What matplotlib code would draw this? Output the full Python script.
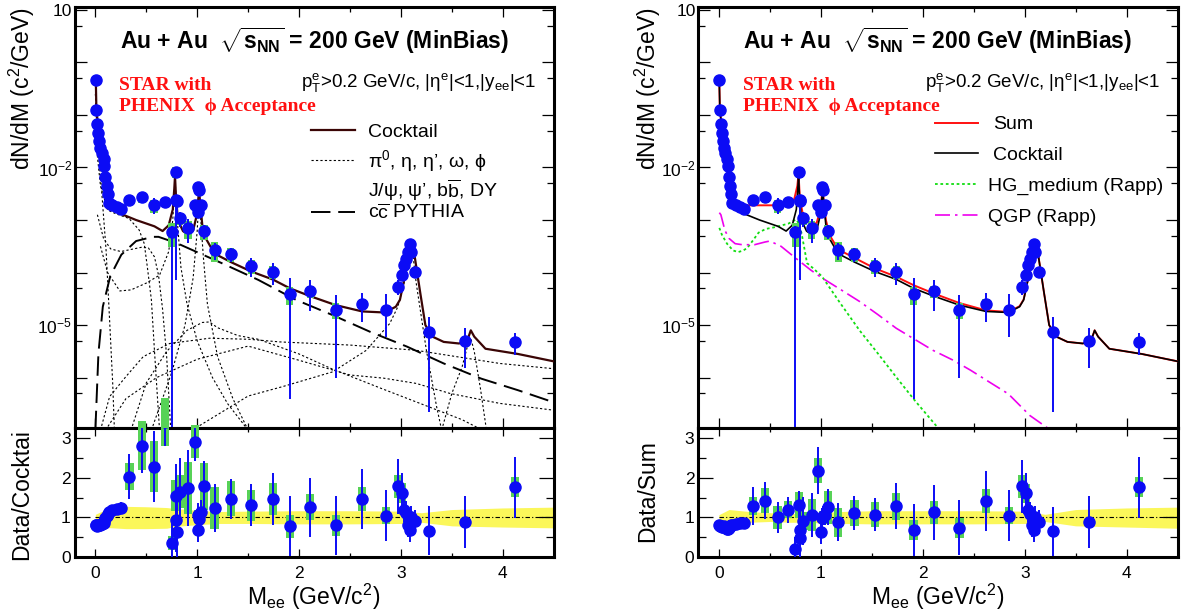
import numpy as np
import matplotlib
matplotlib.use('Agg')
import matplotlib.pyplot as plt
from matplotlib.ticker import FixedLocator, FuncFormatter, NullFormatter

plt.rcParams['font.family'] = ['Liberation Sans', 'DejaVu Sans']
plt.rcParams['mathtext.fontset'] = 'custom'
plt.rcParams['mathtext.rm'] = 'Liberation Sans'
plt.rcParams['mathtext.it'] = 'Liberation Sans:italic'
plt.rcParams['mathtext.bf'] = 'Liberation Sans:bold'

# ---- data points (mass, log10 dN/dM) ----
mee = [0.005, 0.01, 0.02, 0.03, 0.04, 0.05, 0.065, 0.08, 0.085, 0.095, 0.11, 0.12, 0.13, 0.165, 0.21, 0.25,
       0.335, 0.455, 0.576, 0.68, 0.75, 0.787, 0.795, 0.80, 0.83, 0.91,
       0.976, 1.005, 1.009, 1.02, 1.04, 1.067,
       1.17, 1.33, 1.53, 1.74, 1.91, 2.11, 2.36, 2.62, 2.85,
       2.97, 3.01, 3.035, 3.05, 3.07, 3.09, 3.10, 3.14,
       3.28, 3.63, 4.12]
dndm_log = [-0.34, -0.90, -1.17, -1.34, -1.49, -1.62, -1.73, -1.84, -1.97, -2.19, -2.35, -2.50, -2.67, -2.72, -2.75, -2.79,
            -2.61, -2.57, -2.72, -2.66, -3.23, -2.08, -2.61, -2.64, -2.97, -3.15,
            -2.72, -2.85, -2.37, -2.42, -2.72, -3.21,
            -3.57, -3.64, -3.87, -3.98, -4.41, -4.35, -4.71, -4.59, -4.71,
            -4.27, -4.04, -3.85, -3.74, -3.61, -3.46, -3.61, -3.99,
            -5.13, -5.30, -5.32]
err_up = [0.03] * 16 + [0.15, 0.2, 0.35, 0.2, 0.3, 0.1, 0.15, 0.3, 0.3, 0.45,
                        0.15, 0.2, 0.1, 0.1, 0.2, 0.3,
                        0.35, 0.3, 0.41, 0.45, 1.0, 0.62, 0.9, 0.58, 1.0,
                        0.35, 0.15, 0.15, 0.15, 0.15, 0.15, 0.15, 0.15,
                        0.95, 0.74, 0.45]
err_dn = [0.03] * 16 + [0.15, 0.2, 0.32, 0.2, 1.0, 0.1, 0.97, 0.6, 0.3, 0.49,
                        0.15, 0.2, 0.1, 0.1, 0.2, 0.3,
                        0.36, 0.3, 0.38, 0.44, 0.99, 0.59, 0.95, 0.55, 0.7,
                        0.3, 0.15, 0.15, 0.15, 0.15, 0.15, 0.15, 0.15,
                        0.97, 0.7, 0.44]
sys_rel = [0.02] * 9 + [0.05] * 4 + [0.08, 0.08, 0.08] + [0.17, 0.22, 0.28, 0.18, 0.47, 0.25, 0.1, 0.1, 0.25, 0.38,
                                                          0.14, 0.1, 0.1, 0.1, 0.1, 0.33,
                                                          0.42, 0.3, 0.3, 0.27, 0.37, 0.26, 0.34, 0.21, 0.2,
                                                          0.16, 0.15, 0.1, 0.1, 0.1, 0.1, 0.1, 0.1,
                                                          0.05, 0.05, 0.14]

# ratios
ratio_cock = [0.80, 0.80, 0.79, 0.80, 0.82, 0.82, 0.84, 0.86, 0.90, 0.98, 1.05, 1.10, 1.15, 1.20, 1.22, 1.23,
              2.03, 2.80, 2.28, 3.40, 0.36, 1.55, 0.93, 0.63, 1.65, 1.74,
              2.91, 0.69, 1.07, 0.95, 1.13, 1.78,
              1.24, 1.47, 1.31, 1.47, 0.78, 1.26, 0.80, 1.47, 1.05,
              1.78, 1.62, 1.18, 1.11, 0.80, 0.69, 1.00, 0.90,
              0.67, 0.89, 1.76]
ratio_cock_err = [0.03] * 13 + [0.1, 0.12, 0.15] + [0.56, 0.67, 0.9, 0.6, 0.5, 0.8, 0.8, 0.8, 0.85, 0.95,
                                                   0.5, 0.3, 0.3, 0.3, 0.3, 0.65,
                                                   0.6, 0.5, 0.52, 0.66, 0.75, 0.74, 0.75, 0.76, 0.65,
                                                   0.7, 0.5, 0.3, 0.3, 0.3, 0.3, 0.3, 0.3,
                                                   0.62, 0.65, 0.77]
ratio_sum = [0.80, 0.79, 0.78, 0.76, 0.77, 0.78, 0.75, 0.72, 0.70, 0.74, 0.78, 0.80, 0.82, 0.84, 0.85, 0.86,
             1.29, 1.42, 1.00, 1.19, 0.21, 1.32, 0.69, 0.49, 0.92, 1.07,
             2.18, 0.63, 0.98, 1.05, 1.07, 1.26,
             0.88, 1.11, 1.07, 1.28, 0.68, 1.13, 0.74, 1.41, 1.05,
             1.78, 1.61, 1.18, 1.10, 0.80, 0.69, 1.00, 0.89,
             0.65, 0.88, 1.76]
ratio_sum_err = [0.03] * 13 + [0.08, 0.08, 0.08] + [0.48, 0.46, 0.4, 0.33, 0.3, 0.35, 0.6, 0.5, 0.6, 0.55,
                                                   0.58, 0.3, 0.25, 0.25, 0.25, 0.46,
                                                   0.48, 0.42, 0.42, 0.58, 0.66, 0.69, 0.69, 0.75, 0.65,
                                                   0.67, 0.5, 0.3, 0.3, 0.3, 0.3, 0.3, 0.3,
                                                   0.61, 0.65, 0.77]

# cocktail uncertainty bands
band_x = [0.0, 0.1, 0.3, 0.5, 0.7, 0.8, 0.9, 1.0, 1.2, 1.5, 2.0, 2.5, 3.0, 3.1, 3.2, 3.5, 4.0, 4.5]
band_cock_hi = [1.08, 1.2, 1.28, 1.27, 1.25, 1.22, 1.2, 1.18, 1.15, 1.16, 1.17, 1.17, 1.16, 1.14, 1.12, 1.2, 1.24, 1.26]
band_cock_lo = [0.72, 0.75, 0.72, 0.72, 0.73, 0.78, 0.80, 0.82, 0.85, 0.85, 0.84, 0.84, 0.85, 0.87, 0.88, 0.79, 0.76, 0.74]
band_sum_hi = [1.07, 1.2, 1.15, 1.12, 1.1, 1.1, 1.1, 1.12, 1.15, 1.17, 1.17, 1.17, 1.16, 1.12, 1.08, 1.2, 1.24, 1.26]
band_sum_lo = [0.8, 0.82, 0.88, 0.9, 0.88, 0.88, 0.88, 0.86, 0.85, 0.84, 0.84, 0.84, 0.85, 0.88, 0.9, 0.79, 0.76, 0.73]

# ---- curves (mass, log10 dN/dM) ----
cock_x = [0.0, 0.005, 0.01, 0.025, 0.05, 0.08, 0.1, 0.13, 0.15, 0.2, 0.26, 0.4, 0.58, 0.66, 0.72, 0.76, 0.775,
          0.782, 0.79, 0.81, 0.86, 0.91, 0.96, 0.99, 1.01, 1.019, 1.03, 1.05, 1.09, 1.17, 1.33, 1.53, 1.74,
          1.91, 2.11, 2.36, 2.62, 2.84, 2.95, 2.99, 3.06, 3.096, 3.13, 3.19, 3.24, 3.31, 3.42, 3.57, 3.65,
          3.686, 3.72, 3.83, 4.15, 4.5]
cock_y = [-0.3, -0.4, -0.9, -1.17, -1.62, -1.9, -2.2, -2.55, -2.7, -2.82, -2.89, -3.0, -3.12, -3.21, -3.1,
          -2.8, -2.4, -2.16, -2.5, -3.0, -3.21, -3.28, -3.2, -2.95, -2.6, -2.45, -2.7, -3.1, -3.37, -3.64,
          -3.8, -3.98, -4.13, -4.3, -4.45, -4.62, -4.74, -4.76, -4.65, -4.52, -3.88, -3.44, -3.63, -4.39,
          -5.0, -5.22, -5.32, -5.35, -5.3, -5.1, -5.22, -5.45, -5.55, -5.69]
sum_x = [0.0, 0.005, 0.01, 0.025, 0.05, 0.08, 0.1, 0.13, 0.15, 0.2, 0.28, 0.4, 0.55, 0.68, 0.74, 0.77, 0.782,
         0.795, 0.82, 0.86, 0.91, 0.96, 0.99, 1.01, 1.019, 1.03, 1.05, 1.09, 1.17, 1.33, 1.53, 1.74, 1.91,
         2.11, 2.36, 2.62, 2.84, 2.95, 2.99, 3.06, 3.096, 3.13, 3.19, 3.24, 3.31, 3.42, 3.57, 3.65, 3.686,
         3.72, 3.83, 4.15, 4.5]
sum_y = [-0.3, -0.4, -0.9, -1.15, -1.58, -1.85, -2.15, -2.5, -2.65, -2.76, -2.72, -2.72, -2.72, -2.72,
         -2.6, -2.35, -2.12, -2.6, -2.85, -3.0, -3.12, -3.05, -2.85, -2.55, -2.4, -2.65, -3.0, -3.3, -3.56,
         -3.72, -3.92, -4.08, -4.24, -4.4, -4.58, -4.72, -4.75, -4.64, -4.51, -3.88, -3.44, -3.63, -4.39,
         -5.0, -5.22, -5.32, -5.35, -5.3, -5.1, -5.22, -5.45, -5.55, -5.69]
ccbar_x = [0.0, 0.03, 0.073, 0.146, 0.255, 0.4, 0.565, 0.62, 0.8, 1.24, 1.6, 1.97, 2.33, 2.7, 3.06, 3.42,
           3.79, 4.15, 4.5]
ccbar_y = [-7.0, -5.54, -4.65, -4.07, -3.66, -3.40, -3.32, -3.32, -3.44, -3.82, -4.14, -4.52, -4.81,
           -5.13, -5.41, -5.73, -6.02, -6.24, -6.47]
pi0_x = [0.0, 0.02, 0.056, 0.105, 0.138, 0.17, 0.187]
pi0_y = [-0.6, -1.5, -2.3, -3.57, -4.84, -6.1, -7.0]
eta_x = [0.01, 0.05, 0.12, 0.2, 0.33, 0.43, 0.48, 0.51, 0.55, 0.58, 0.63]
eta_y = [-1.6, -2.35, -2.81, -2.88, -2.97, -3.19, -3.45, -3.89, -4.52, -5.48, -7.0]
omd_x = [0.02, 0.08, 0.15, 0.25, 0.35, 0.45, 0.52, 0.58, 0.62, 0.66, 0.70, 0.74]
omd_y = [-2.9, -3.35, -3.55, -3.6, -3.56, -3.52, -3.53, -3.7, -4.05, -4.7, -5.6, -7.0]
omg_x = [0.05, 0.12, 0.24, 0.35, 0.5, 0.63, 0.72, 0.76, 0.782, 0.80, 0.84, 0.9, 1.0, 1.15, 1.3, 1.5]
omg_y = [-3.5, -4.0, -4.35, -4.33, -4.2, -4.05, -3.6, -3.0, -2.2, -2.9, -3.9, -4.6, -5.3, -6.0, -6.5, -7.0]
phi_x = [0.55, 0.75, 0.88, 0.96, 1.0, 1.019, 1.035, 1.06, 1.1, 1.2, 1.35, 1.5]
phi_y = [-7.0, -5.9, -5.0, -4.1, -3.2, -2.5, -3.0, -3.7, -4.6, -5.6, -6.4, -7.0]
etap_x = [0.35, 0.5, 0.7, 0.9, 1.05, 1.12, 1.2, 1.4, 1.6, 2.0, 2.33, 2.8, 3.2, 3.6, 3.8]
etap_y = [-7.0, -6.1, -5.5, -5.1, -4.95, -4.94, -5.05, -5.2, -5.27, -5.55, -5.84, -6.2, -6.5, -6.8, -7.0]
bb_x = [0.05, 0.14, 0.3, 0.47, 0.73, 1.12, 1.51, 1.81, 2.5, 3.15, 3.97, 4.5]
bb_y = [-7.0, -6.36, -5.98, -5.6, -5.35, -5.25, -5.27, -5.32, -5.38, -5.48, -5.73, -5.83]
dy_x = [0.1, 0.3, 0.6, 1.0, 1.5, 2.0, 2.5, 2.83, 3.15, 3.48, 3.97, 4.5]
dy_y = [-7.0, -6.4, -6.0, -5.65, -5.4, -5.67, -5.95, -6.01, -6.11, -6.30, -6.49, -6.62]
jpsi_x = [0.95, 1.5, 1.84, 2.33, 2.66, 2.89, 2.97, 3.03, 3.07, 3.096, 3.12, 3.15, 3.25, 3.35, 3.40]
jpsi_y = [-7.0, -6.35, -6.17, -5.89, -5.48, -4.97, -4.65, -4.2, -3.8, -3.46, -3.7, -4.2, -5.48, -6.55, -7.0]
psip_x = [3.40, 3.5, 3.6, 3.66, 3.686, 3.72, 3.78, 3.84]
psip_y = [-7.0, -6.3, -5.8, -5.35, -5.25, -5.5, -6.2, -7.0]
hg_x = [0.005, 0.03, 0.08, 0.14, 0.19, 0.24, 0.28, 0.33, 0.39, 0.46, 0.54, 0.62, 0.68, 0.73, 0.755, 0.78,
        0.81, 0.84, 0.865, 0.92, 1.01, 1.19, 1.38, 1.56, 1.74, 1.92, 2.16]
hg_y = [-3.15, -3.28, -3.45, -3.58, -3.61, -3.58, -3.53, -3.4, -3.24, -3.17, -3.14, -3.1, -3.07, -3.02,
        -2.99, -3.05, -3.24, -3.55, -3.82, -3.91, -4.07, -4.58, -5.1, -5.54, -5.99, -6.43, -6.98]
qgp_x = [0.005, 0.02, 0.04, 0.06, 0.1, 0.16, 0.23, 0.35, 0.45, 0.5, 0.61, 0.75, 0.9, 1.01, 1.2, 1.38, 1.56,
         1.74, 1.92, 2.1, 2.3, 2.47, 2.65, 2.84, 3.05, 3.24]
qgp_y = [-2.86, -2.9, -3.05, -3.2, -3.35, -3.45, -3.47, -3.47, -3.42, -3.40, -3.5, -3.72, -3.95, -4.1,
         -4.33, -4.55, -4.8, -5.06, -5.27, -5.48, -5.67, -5.86, -6.08, -6.31, -6.72, -6.98]

BLUE = '#0b0bf5'
GREEN = '#57d257'
YELLOW = '#fbf75a'
LABEL_FS = 16.5
TICK_FS = 12.5
SERIF = ['Liberation Serif', 'DejaVu Serif']


def lg(v):
    return 10.0 ** np.asarray(v)


def decade_label(v, pos):
    labels = {1: '10', -2: '$10^{-2}$', -5: '$10^{-5}$'}
    return labels.get(int(round(np.log10(v))), '')


def style_top(ax):
    ax.set_xlim(-0.2, 4.5)
    ax.set_yscale('log')
    ax.set_ylim(1.1e-7, 11.5)
    ax.yaxis.set_major_locator(FixedLocator([10.0 ** k for k in range(-6, 2)]))
    ax.yaxis.set_major_formatter(FuncFormatter(decade_label))
    ax.yaxis.set_minor_locator(FixedLocator([5 * 10.0 ** k for k in range(-7, 1)]))
    ax.yaxis.set_minor_formatter(NullFormatter())
    ax.xaxis.set_major_locator(FixedLocator([0, 1, 2, 3, 4]))
    ax.xaxis.set_minor_locator(FixedLocator([0.5, 1.5, 2.5, 3.5]))
    ax.tick_params(which='both', direction='in', top=True, right=True, labelbottom=False,
                   labelsize=TICK_FS, width=0.9)
    ax.tick_params(axis='y', which='major', length=8.5, pad=2)
    ax.tick_params(axis='y', which='minor', length=5)
    ax.tick_params(axis='x', which='major', length=7)
    ax.tick_params(axis='x', which='minor', length=3.5)
    for s in ax.spines.values():
        s.set_linewidth(2.2)


def style_ratio(ax):
    ax.set_xlim(-0.2, 4.5)
    ax.set_ylim(0, 3.25)
    ax.yaxis.set_major_locator(FixedLocator([0, 1, 2, 3]))
    ax.yaxis.set_minor_locator(FixedLocator([0.5, 1.5, 2.5]))
    ax.xaxis.set_major_locator(FixedLocator([0, 1, 2, 3, 4]))
    ax.xaxis.set_minor_locator(FixedLocator([0.5, 1.5, 2.5, 3.5]))
    ax.tick_params(which='both', direction='in', top=True, right=True, labelsize=TICK_FS, width=0.9)
    ax.tick_params(axis='y', which='major', length=10.5, pad=3)
    ax.tick_params(axis='y', which='minor', length=5.5)
    ax.tick_params(axis='x', which='major', length=5.8, pad=6)
    ax.tick_params(axis='x', which='minor', length=3)
    for s in ax.spines.values():
        s.set_linewidth(2.2)


def draw_points(ax):
    x = np.asarray(mee)
    y = lg(dndm_log)
    sys_h = y * np.asarray(sys_rel)
    ax.bar(x, 2 * sys_h, bottom=y - sys_h, width=0.07, color=GREEN, zorder=4)
    lo = np.maximum(y * (1 - np.asarray(err_dn)), 1e-9)
    hi = y * (1 + np.asarray(err_up))
    ax.vlines(x, lo, hi, color=BLUE, lw=1.4, zorder=5)
    ax.plot(x, y, 'o', color=BLUE, ms=8, zorder=6)


def draw_ratio(ax, r, r_err, b_hi, b_lo):
    x = np.asarray(mee)
    r = np.asarray(r)
    ax.fill_between(band_x, b_lo, b_hi, color=YELLOW, lw=0, zorder=1)
    ax.plot([0, 4.5], [1, 1], color='black', lw=0.8, ls=(0, (4, 2, 1, 2)), zorder=2)
    h = r * np.asarray(sys_rel)
    ax.bar(x, 2 * h, bottom=r - h, width=0.08, color=GREEN, zorder=4, clip_on=False)
    ax.vlines(x, r - np.asarray(r_err), r + np.asarray(r_err), color=BLUE, lw=1.4, zorder=5)
    ax.plot(x, r, 'o', color=BLUE, ms=8, zorder=6)


fig = plt.figure(figsize=(11.82, 6.13), dpi=100)
axL = fig.add_axes([0.06345, 0.3018, 0.405, 0.6873])
axLr = fig.add_axes([0.06345, 0.0909, 0.405, 0.2109])
axR = fig.add_axes([0.5909, 0.3018, 0.4054, 0.6873])
axRr = fig.add_axes([0.5909, 0.0909, 0.4054, 0.2109])

# ---- left: cocktail components ----
dot = dict(color='black', lw=0.8, ls=(0, (2, 2)), zorder=2)
for cx, cy in [(pi0_x, pi0_y), (eta_x, eta_y), (omd_x, omd_y), (omg_x, omg_y), (phi_x, phi_y),
               (etap_x, etap_y), (bb_x, bb_y), (dy_x, dy_y), (jpsi_x, jpsi_y), (psip_x, psip_y)]:
    axL.plot(cx, lg(cy), **dot)
axL.plot(ccbar_x, lg(ccbar_y), color='black', lw=1.4, ls=(0, (10, 4)), zorder=3)
axL.plot(cock_x, lg(cock_y), color='#3a0505', lw=1.6, zorder=3)
draw_points(axL)

# ---- right: models ----
axR.plot(hg_x, lg(hg_y), color='#11dd11', lw=1.3, ls=(0, (1.5, 1.5)), zorder=2)
axR.plot(qgp_x, lg(qgp_y), color='#ee00ee', lw=1.2, ls=(0, (9, 3, 1.5, 3)), zorder=2)
axR.plot(sum_x, lg(sum_y), color='#ff1010', lw=1.4, zorder=3)
axR.plot(cock_x, lg(cock_y), color='black', lw=1.2, zorder=3)
draw_points(axR)

for ax in (axL, axR):
    style_top(ax)
    ax.text(0.5, 0.8998, r'Au + Au  $\sqrt{\mathbf{s}_{\mathbf{NN}}}$ = 200 GeV (MinBias)', transform=ax.transAxes,
            ha='center', va='baseline', fontsize=16.5, fontweight='bold')
    ax.text(0.092, 0.8023, 'STAR with', transform=ax.transAxes, color='#ff1010', fontsize=14,
            fontweight='bold', family=SERIF, va='baseline')
    ax.text(0.092, 0.752, 'PHENIX  ϕ Acceptance', transform=ax.transAxes, color='#ff1010', fontsize=14,
            fontweight='bold', family=SERIF, va='baseline')
    ax.text(0.473, 0.8087, r'p$_\mathregular{T}^\mathregular{e}$>0.2 GeV/c, |η$^\mathregular{e}$|<1,|y$_\mathregular{ee}$|<1',
            transform=ax.transAxes, fontsize=13.5, va='baseline')

# legends
axL.plot([0.492, 0.585], [0.7074, 0.7074], transform=axL.transAxes, color='#3a0505', lw=1.6)
axL.plot([0.492, 0.585], [0.636, 0.636], transform=axL.transAxes, **dict(dot, zorder=3))
axL.plot([0.492, 0.585], [0.513, 0.513], transform=axL.transAxes, color='black', lw=1.4, ls=(0, (10, 4)))
for yy, txt in [(0.6915, 'Cocktail'), (0.62, r'π$^\mathregular{0}$, η, η’, ω, ϕ'),
                (0.549, r'J/ψ, ψ’, b$\overline{\mathregular{b}}$, DY'), (0.498, r'c$\overline{\mathregular{c}}$ PYTHIA')]:
    axL.text(0.613, yy, txt, transform=axL.transAxes, fontsize=14, va='baseline')

axR.plot([0.4927, 0.584], [0.7247, 0.7247], transform=axR.transAxes, color='#ff1010', lw=1.4)
axR.plot([0.4927, 0.584], [0.652, 0.652], transform=axR.transAxes, color='black', lw=1.2)
axR.plot([0.4927, 0.584], [0.5784, 0.5784], transform=axR.transAxes, color='#11dd11', lw=1.3, ls=(0, (1.5, 1.5)))
axR.plot([0.4927, 0.584], [0.5056, 0.5056], transform=axR.transAxes, color='#ee00ee', lw=1.2, ls=(0, (9, 3, 1.5, 3)))
for xx, yy, txt in [(0.6146, 0.709, 'Sum'), (0.6146, 0.636, 'Cocktail'), (0.6035, 0.5633, 'HG_medium (Rapp)'),
                    (0.6035, 0.4897, 'QGP (Rapp)')]:
    axR.text(xx, yy, txt, transform=axR.transAxes, fontsize=14, va='baseline')

# ---- ratios ----
draw_ratio(axLr, ratio_cock, ratio_cock_err, band_cock_hi, band_cock_lo)
draw_ratio(axRr, ratio_sum, ratio_sum_err, band_sum_hi, band_sum_lo)
style_ratio(axLr)
style_ratio(axRr)

# ---- axis titles ----
for xf in (0.0186, 0.548):
    fig.text(xf, 0.989, r'dN/dM (c$^\mathregular{2}$/GeV)', rotation=90, ha='center', va='top', fontsize=LABEL_FS)
fig.text(0.0186, 0.1925, 'Data/Cocktai', rotation=90, ha='center', va='center', fontsize=LABEL_FS)
fig.text(0.548, 0.199, 'Data/Sum', rotation=90, ha='center', va='center', fontsize=LABEL_FS)
for xf in (314 / 1182, 938 / 1182):
    fig.text(xf, 0.0131, r'M$_\mathregular{ee}$ (GeV/c$^\mathregular{2}$)', ha='center', va='baseline',
             fontsize=LABEL_FS)

fig.savefig('out.png', dpi=100)
